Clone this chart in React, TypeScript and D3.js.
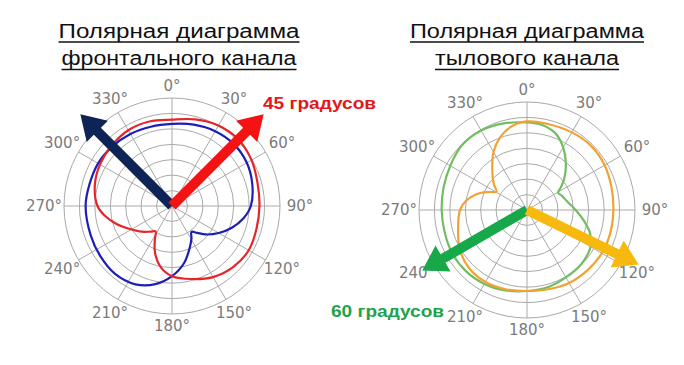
import React, { useEffect, useRef } from 'react';
import * as d3 from 'd3';

const WIDTH = 684;
const HEIGHT = 365;
const RADIUS = 108;

const ANGLE_TICKS = [0, 30, 60, 90, 120, 150, 180, 210, 240, 270, 300, 330];
const RING_LEVELS = [0.143, 0.286, 0.429, 0.571, 0.714, 0.857, 1];

// [angle in degrees, relative level]
const FRONT_RED: [number, number][] = [
  [0, 0.80], [15, 0.83], [30, 0.86], [45, 0.87], [60, 0.85], [75, 0.82], [90, 0.81],
  [105, 0.81], [120, 0.82], [135, 0.80], [150, 0.76], [165, 0.70], [180, 0.65],
  [190, 0.58], [200, 0.46], [207, 0.35], [213, 0.28], [220, 0.31], [230, 0.37],
  [242, 0.45], [252, 0.54], [262, 0.63], [270, 0.69], [285, 0.74], [300, 0.77],
  [315, 0.79], [330, 0.81], [345, 0.81],
];

const FRONT_BLUE: [number, number][] = [
  [0, 0.76], [15, 0.78], [30, 0.80], [45, 0.81], [60, 0.80], [75, 0.77], [90, 0.73],
  [100, 0.67], [110, 0.59], [120, 0.50], [130, 0.41], [137, 0.34], [143, 0.30],
  [149, 0.35], [157, 0.42], [168, 0.54], [180, 0.65], [192, 0.74], [205, 0.80],
  [220, 0.82], [235, 0.81], [250, 0.80], [270, 0.80], [285, 0.79], [300, 0.79],
  [315, 0.78], [330, 0.77], [345, 0.76],
];

const REAR_ORANGE: [number, number][] = [
  [0, 0.82], [15, 0.82], [30, 0.83], [45, 0.84], [60, 0.83], [75, 0.81], [90, 0.80],
  [105, 0.80], [120, 0.80], [135, 0.79], [150, 0.78], [165, 0.76], [180, 0.75],
  [195, 0.76], [210, 0.77], [225, 0.76], [240, 0.72], [255, 0.66], [270, 0.62],
  [280, 0.56], [290, 0.46], [296, 0.38], [301, 0.33], [308, 0.39], [318, 0.48],
  [330, 0.62], [340, 0.72], [350, 0.79],
];

const REAR_GREEN: [number, number][] = [
  [0, 0.81], [10, 0.80], [20, 0.76], [30, 0.67], [40, 0.56], [50, 0.45], [56, 0.38],
  [61, 0.33], [68, 0.35], [78, 0.38], [90, 0.45], [100, 0.53], [110, 0.62],
  [120, 0.68], [135, 0.71], [150, 0.72], [165, 0.74], [180, 0.75], [195, 0.77],
  [210, 0.79], [225, 0.80], [240, 0.80], [255, 0.79], [270, 0.79], [285, 0.80],
  [300, 0.82], [315, 0.85], [330, 0.85], [345, 0.83],
];

const FRONT_ARROWS = [
  { angle: 315, length: 1.2, color: '#0e2457' },
  { angle: 45, length: 1.2, color: '#f41212' },
];

const REAR_ARROWS = [
  { angle: 240, length: 1.12, color: '#17a84a' },
  { angle: 116, length: 1.15, color: '#f8b90f' },
];

const CHARTS = [
  {
    cx: 172, cy: 206,
    title: ['Полярная диаграмма ', 'фронтального канала'],
    titleX: 179, titleWidths: [241, 235],
    curves: [
      { data: FRONT_BLUE, color: '#1d1db8' },
      { data: FRONT_RED, color: '#e5252a' },
    ],
    arrows: FRONT_ARROWS,
  },
  {
    cx: 527, cy: 210,
    title: ['Полярная диаграмма', 'тылового канала'],
    titleX: 527, titleWidths: [234, 184],
    curves: [
      { data: REAR_GREEN, color: '#72bd62' },
      { data: REAR_ORANGE, color: '#f2a232' },
    ],
    arrows: REAR_ARROWS,
  },
];

const App = () => {
  const svgRef = useRef<SVGSVGElement | null>(null);

  useEffect(() => {
    if (!svgRef.current) return;
    const svg = d3.select(svgRef.current);
    svg.selectAll('*').remove();

    svg.append('rect').attr('width', WIDTH).attr('height', HEIGHT).attr('fill', '#ffffff');

    const rScale = d3.scaleLinear().domain([0, 1]).range([0, RADIUS]);
    const rad = (deg: number) => (deg * Math.PI) / 180;

    const line = d3.lineRadial<[number, number]>()
      .angle(d => rad(d[0]))
      .radius(d => rScale(d[1]))
      .curve(d3.curveCatmullRomClosed.alpha(0.5));

    CHARTS.forEach(chart => {
      const g = svg.append('g').attr('transform', `translate(${chart.cx}, ${chart.cy})`);

      // rings
      g.selectAll('.ring')
        .data(RING_LEVELS)
        .enter()
        .append('circle')
        .attr('r', d => rScale(d))
        .attr('fill', 'none')
        .attr('stroke', '#a9a9a9')
        .attr('stroke-width', 1);

      // spokes
      g.selectAll('.spoke')
        .data(ANGLE_TICKS)
        .enter()
        .append('line')
        .attr('x1', 0)
        .attr('y1', 0)
        .attr('x2', d => rScale(1) * Math.sin(rad(d)))
        .attr('y2', d => -rScale(1) * Math.cos(rad(d)))
        .attr('stroke', '#a9a9a9')
        .attr('stroke-width', 1);

      // angle labels
      g.selectAll('.tick-label')
        .data(ANGLE_TICKS)
        .enter()
        .append('text')
        .attr('x', d => (RADIUS + 12 + 8 * Math.abs(Math.sin(rad(d)))) * Math.sin(rad(d)))
        .attr('y', d => -(RADIUS + 12 + 8 * Math.abs(Math.sin(rad(d)))) * Math.cos(rad(d)))
        .attr('text-anchor', 'middle')
        .attr('dominant-baseline', 'central')
        .attr('font-family', 'DejaVu Sans, sans-serif')
        .attr('font-size', '15px')
        .attr('fill', '#7b7b7b')
        .text(d => `${d}°`);

      // pattern curves
      chart.curves.forEach(c => {
        g.append('path')
          .attr('d', line(c.data) || '')
          .attr('fill', 'none')
          .attr('stroke', c.color)
          .attr('stroke-width', 2.2);
      });

      // direction arrows
      const headLen = 24;
      const headHalf = 15;
      const shaftHalf = 5;
      chart.arrows.forEach(a => {
        const L = rScale(a.length);
        const b = L - headLen;
        const pts: [number, number][] = [
          [-shaftHalf, 0], [-shaftHalf, -b], [-headHalf, -b], [0, -L],
          [headHalf, -b], [shaftHalf, -b], [shaftHalf, 0],
        ];
        g.append('polygon')
          .attr('points', pts.map(p => p.join(',')).join(' '))
          .attr('transform', `rotate(${a.angle})`)
          .attr('fill', a.color);
      });

      // title with underline
      const baselines = [37.5, 65];
      chart.title.forEach((t, i) => {
        const w = chart.titleWidths[i];
        svg.append('text')
          .attr('x', chart.titleX)
          .attr('y', baselines[i])
          .attr('text-anchor', 'middle')
          .attr('font-family', 'Liberation Sans, Arial, sans-serif')
          .attr('font-size', '20px')
          .attr('fill', '#111111')
          .attr('textLength', w)
          .attr('lengthAdjust', 'spacingAndGlyphs')
          .text(t);
        svg.append('line')
          .attr('x1', chart.titleX - w / 2)
          .attr('x2', chart.titleX + w / 2)
          .attr('y1', baselines[i] + 4.5)
          .attr('y2', baselines[i] + 4.5)
          .attr('stroke', '#111111')
          .attr('stroke-width', 1.3);
      });
    });

    // angle captions
    svg.append('text')
      .attr('x', 263)
      .attr('y', 108.5)
      .attr('font-family', 'Liberation Sans, Arial, sans-serif')
      .attr('font-size', '16px')
      .attr('font-weight', 'bold')
      .attr('fill', '#e3161c')
      .attr('textLength', 113)
      .attr('lengthAdjust', 'spacingAndGlyphs')
      .text('45 градусов');

    svg.append('text')
      .attr('x', 331)
      .attr('y', 316.5)
      .attr('font-family', 'Liberation Sans, Arial, sans-serif')
      .attr('font-size', '16px')
      .attr('font-weight', 'bold')
      .attr('fill', '#1ea34a')
      .attr('textLength', 113)
      .attr('lengthAdjust', 'spacingAndGlyphs')
      .text('60 градусов');
  }, []);

  return (
    <svg
      ref={svgRef}
      width={WIDTH}
      height={HEIGHT}
      style={{ position: 'absolute', left: 0, top: 0 }}
    />
  );
};

export default App;
